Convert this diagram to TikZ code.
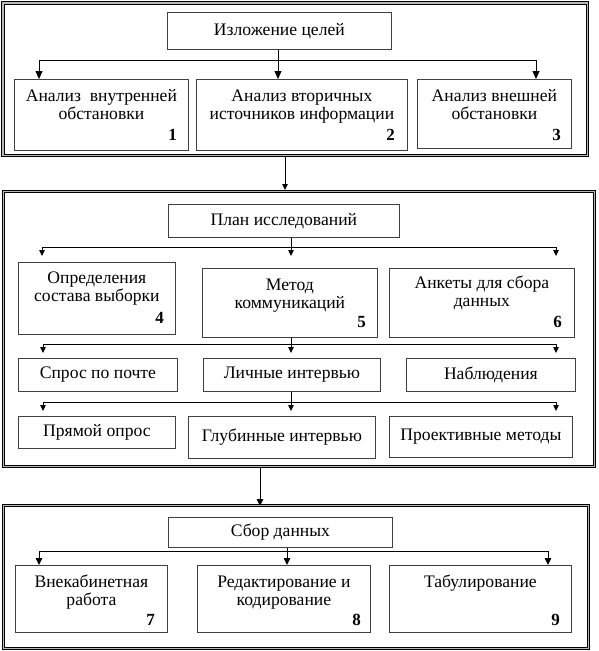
\documentclass[tikz,border=0pt]{standalone}
\usepackage{fontspec}
\setmainfont{Liberation Serif}
\usetikzlibrary{arrows.meta}
\newcommand\firstln{\rule{0pt}{13pt}}
\begin{document}
\begin{tikzpicture}[x=1pt,y=-1pt,
  frame/.style={draw=black, double=gray!55, double distance=1.8pt, line width=0.9pt, inner sep=0, anchor=north west},
  box/.style={draw=black!75, line width=0.8pt, inner sep=0, anchor=north west},
  txt/.style={font=\fontsize{17.6}{18}\selectfont, align=center, inner sep=0, anchor=north},
  onetxt/.style={font=\fontsize{17.6}{18}\selectfont, inner sep=0},
  num/.style={font=\fontsize{17}{18}\selectfont\bfseries, inner sep=0, anchor=base east},
  conn/.style={draw=black, line width=0.8pt},
  arrA/.style={conn, -{Triangle[width=7pt,length=8pt]}},
  arrB/.style={conn, -{Triangle[width=5.5pt,length=6pt]}},
  arrC/.style={conn, -{Triangle[width=6.5pt,length=7pt]}}]
\useasboundingbox (0,0) rectangle (598,651);

% ---------- panel 1 ----------
\node[frame, minimum width=584.5, minimum height=152.5] (p1) at (2.5,2.5) {};
\node[box, minimum width=224, minimum height=37] (t1) at (167,12) {};
\node[onetxt] at (t1.center) {Изложение целей};
\node[box, minimum width=174, minimum height=71] (b1) at (14,79) {};
\node[box, minimum width=211, minimum height=71] (b2) at (196,79) {};
\node[box, minimum width=154, minimum height=69] (b3) at (417,79) {};
\node[txt] at ([yshift=-9]b1.north) {\firstln Анализ\ \ внутренней\\обстановки};
\node[txt] at ([yshift=-9]b2.north) {\firstln Анализ вторичных\\источников информации};
\node[txt] at ([yshift=-9]b3.north) {\firstln Анализ внешней\\обстановки};
\node[num] at (177,140) {1};
\node[num] at (395,140) {2};
\node[num] at (561,140) {3};
\coordinate (h1l) at (39,60);
\coordinate (h1r) at (536,60);
\coordinate (h1m) at (278,60);
\draw[conn] (h1l) -- (h1r);
\draw[arrA] (h1m |- t1.south) -- (h1m |- b2.north);
\draw[arrA] (h1l) -- (h1l |- b1.north);
\draw[arrA] (h1r) -- (h1r |- b3.north);

% ---------- link 1 -> 2 ----------
\coordinate (l1) at (285,157);
\coordinate (l1e) at (285,190);
\draw[arrB] (l1) -- (l1e);

% ---------- panel 2 ----------
\node[frame, minimum width=591, minimum height=275] (p2) at (3,191) {};
\node[box, minimum width=231, minimum height=33] (t2) at (168,204) {};
\node[onetxt] at (t2.center) {План исследований};
\node[box, minimum width=157, minimum height=72] (b4) at (18,262) {};
\node[box, minimum width=175, minimum height=69] (b5) at (202,268) {};
\node[box, minimum width=185, minimum height=69] (b6) at (389,268) {};
\node[txt] at ([yshift=-8]b4.north) {\firstln Определения\\состава выборки};
\node[txt] at ([yshift=-9]b5.north) {\firstln Метод\\коммуникаций};
\node[txt] at ([yshift=-7]b6.north) {\firstln Анкеты для сбора\\данных};
\node[num] at (164,323) {4};
\node[num] at (366,327) {5};
\node[num] at (562,327) {6};
\coordinate (h2l) at (42,247);
\coordinate (h2r) at (556,247);
\coordinate (h2m) at (291,247);
\coordinate (e2l) at (42,256);
\coordinate (e2r) at (556,256);
\coordinate (e2m) at (291,256);
\draw[conn] (h2l) -- (h2r);
\draw[arrB] (h2m |- t2.south) -- (e2m);
\draw[arrB] (h2l) -- (e2l);
\draw[arrB] (h2r) -- (e2r);

\node[box, minimum width=159, minimum height=33] (c1) at (18,358) {};
\node[box, minimum width=177, minimum height=33] (c2) at (203,358) {};
\node[box, minimum width=169, minimum height=33] (c3) at (406,358) {};
\node[onetxt] at (c1.center) {Спрос по почте};
\node[onetxt] at (c2.center) {Личные интервью};
\node[onetxt] at (c3.center) {Наблюдения};
\coordinate (h3l) at (43,344);
\coordinate (h3r) at (556,344);
\coordinate (h3m) at (291,344);
\coordinate (e3l) at (43,353);
\coordinate (e3r) at (556,353);
\coordinate (e3m) at (291,353);
\draw[conn] (h3l) -- (h3r);
\draw[arrB] (h3m |- b5.south) -- (e3m);
\draw[arrB] (h3l) -- (e3l);
\draw[arrB] (h3r) -- (e3r);

\node[box, minimum width=157, minimum height=32] (d1) at (18,416) {};
\node[box, minimum width=187, minimum height=42] (d2) at (188,416) {};
\node[box, minimum width=183, minimum height=41] (d3) at (389,416) {};
\node[onetxt] at (d1.center) {Прямой опрос};
\node[onetxt] at (d2.center) {Глубинные интервью};
\node[onetxt] at (d3.center) {Проективные методы};
\coordinate (h4l) at (43,402);
\coordinate (h4r) at (556,402);
\coordinate (h4m) at (291,402);
\coordinate (e4l) at (43,411);
\coordinate (e4r) at (556,411);
\coordinate (e4m) at (291,411);
\draw[conn] (h4l) -- (h4r);
\draw[arrB] (h4m |- c2.south) -- (e4m);
\draw[arrB] (h4l) -- (e4l);
\draw[arrB] (h4r) -- (e4r);

% ---------- link 2 -> 3 ----------
\coordinate (l2) at (260,468);
\coordinate (l2e) at (260,506);
\draw[arrC] (l2) -- (l2e);

% ---------- panel 3 ----------
\node[frame, minimum width=585, minimum height=143] (p3) at (3,505) {};
\node[box, minimum width=224, minimum height=30] (t3) at (168,517) {};
\node[onetxt] at (t3.center) {Сбор данных};
\node[box, minimum width=152, minimum height=67] (b7) at (15,565) {};
\node[box, minimum width=173, minimum height=67] (b8) at (197,565) {};
\node[box, minimum width=182, minimum height=67] (b9) at (389,565) {};
\node[txt] at ([yshift=-9]b7.north) {\firstln Внекабинетная\\работа};
\node[txt] at ([yshift=-9]b8.north) {\firstln Редактирование и\\кодирование};
\node[txt] at ([yshift=-9]b9.north) {\firstln Табулирование};
\node[num] at (155,625) {7};
\node[num] at (361,625) {8};
\node[num] at (560,625) {9};
\coordinate (h5l) at (39,551);
\coordinate (h5r) at (548,551);
\coordinate (h5m) at (287,551);
\draw[conn] (h5l) -- (h5r);
\draw[arrC] (h5m |- t3.south) -- (h5m |- b8.north);
\draw[arrC] (h5l) -- (h5l |- b7.north);
\draw[arrC] (h5r) -- (h5r |- b9.north);
\end{tikzpicture}
\end{document}
